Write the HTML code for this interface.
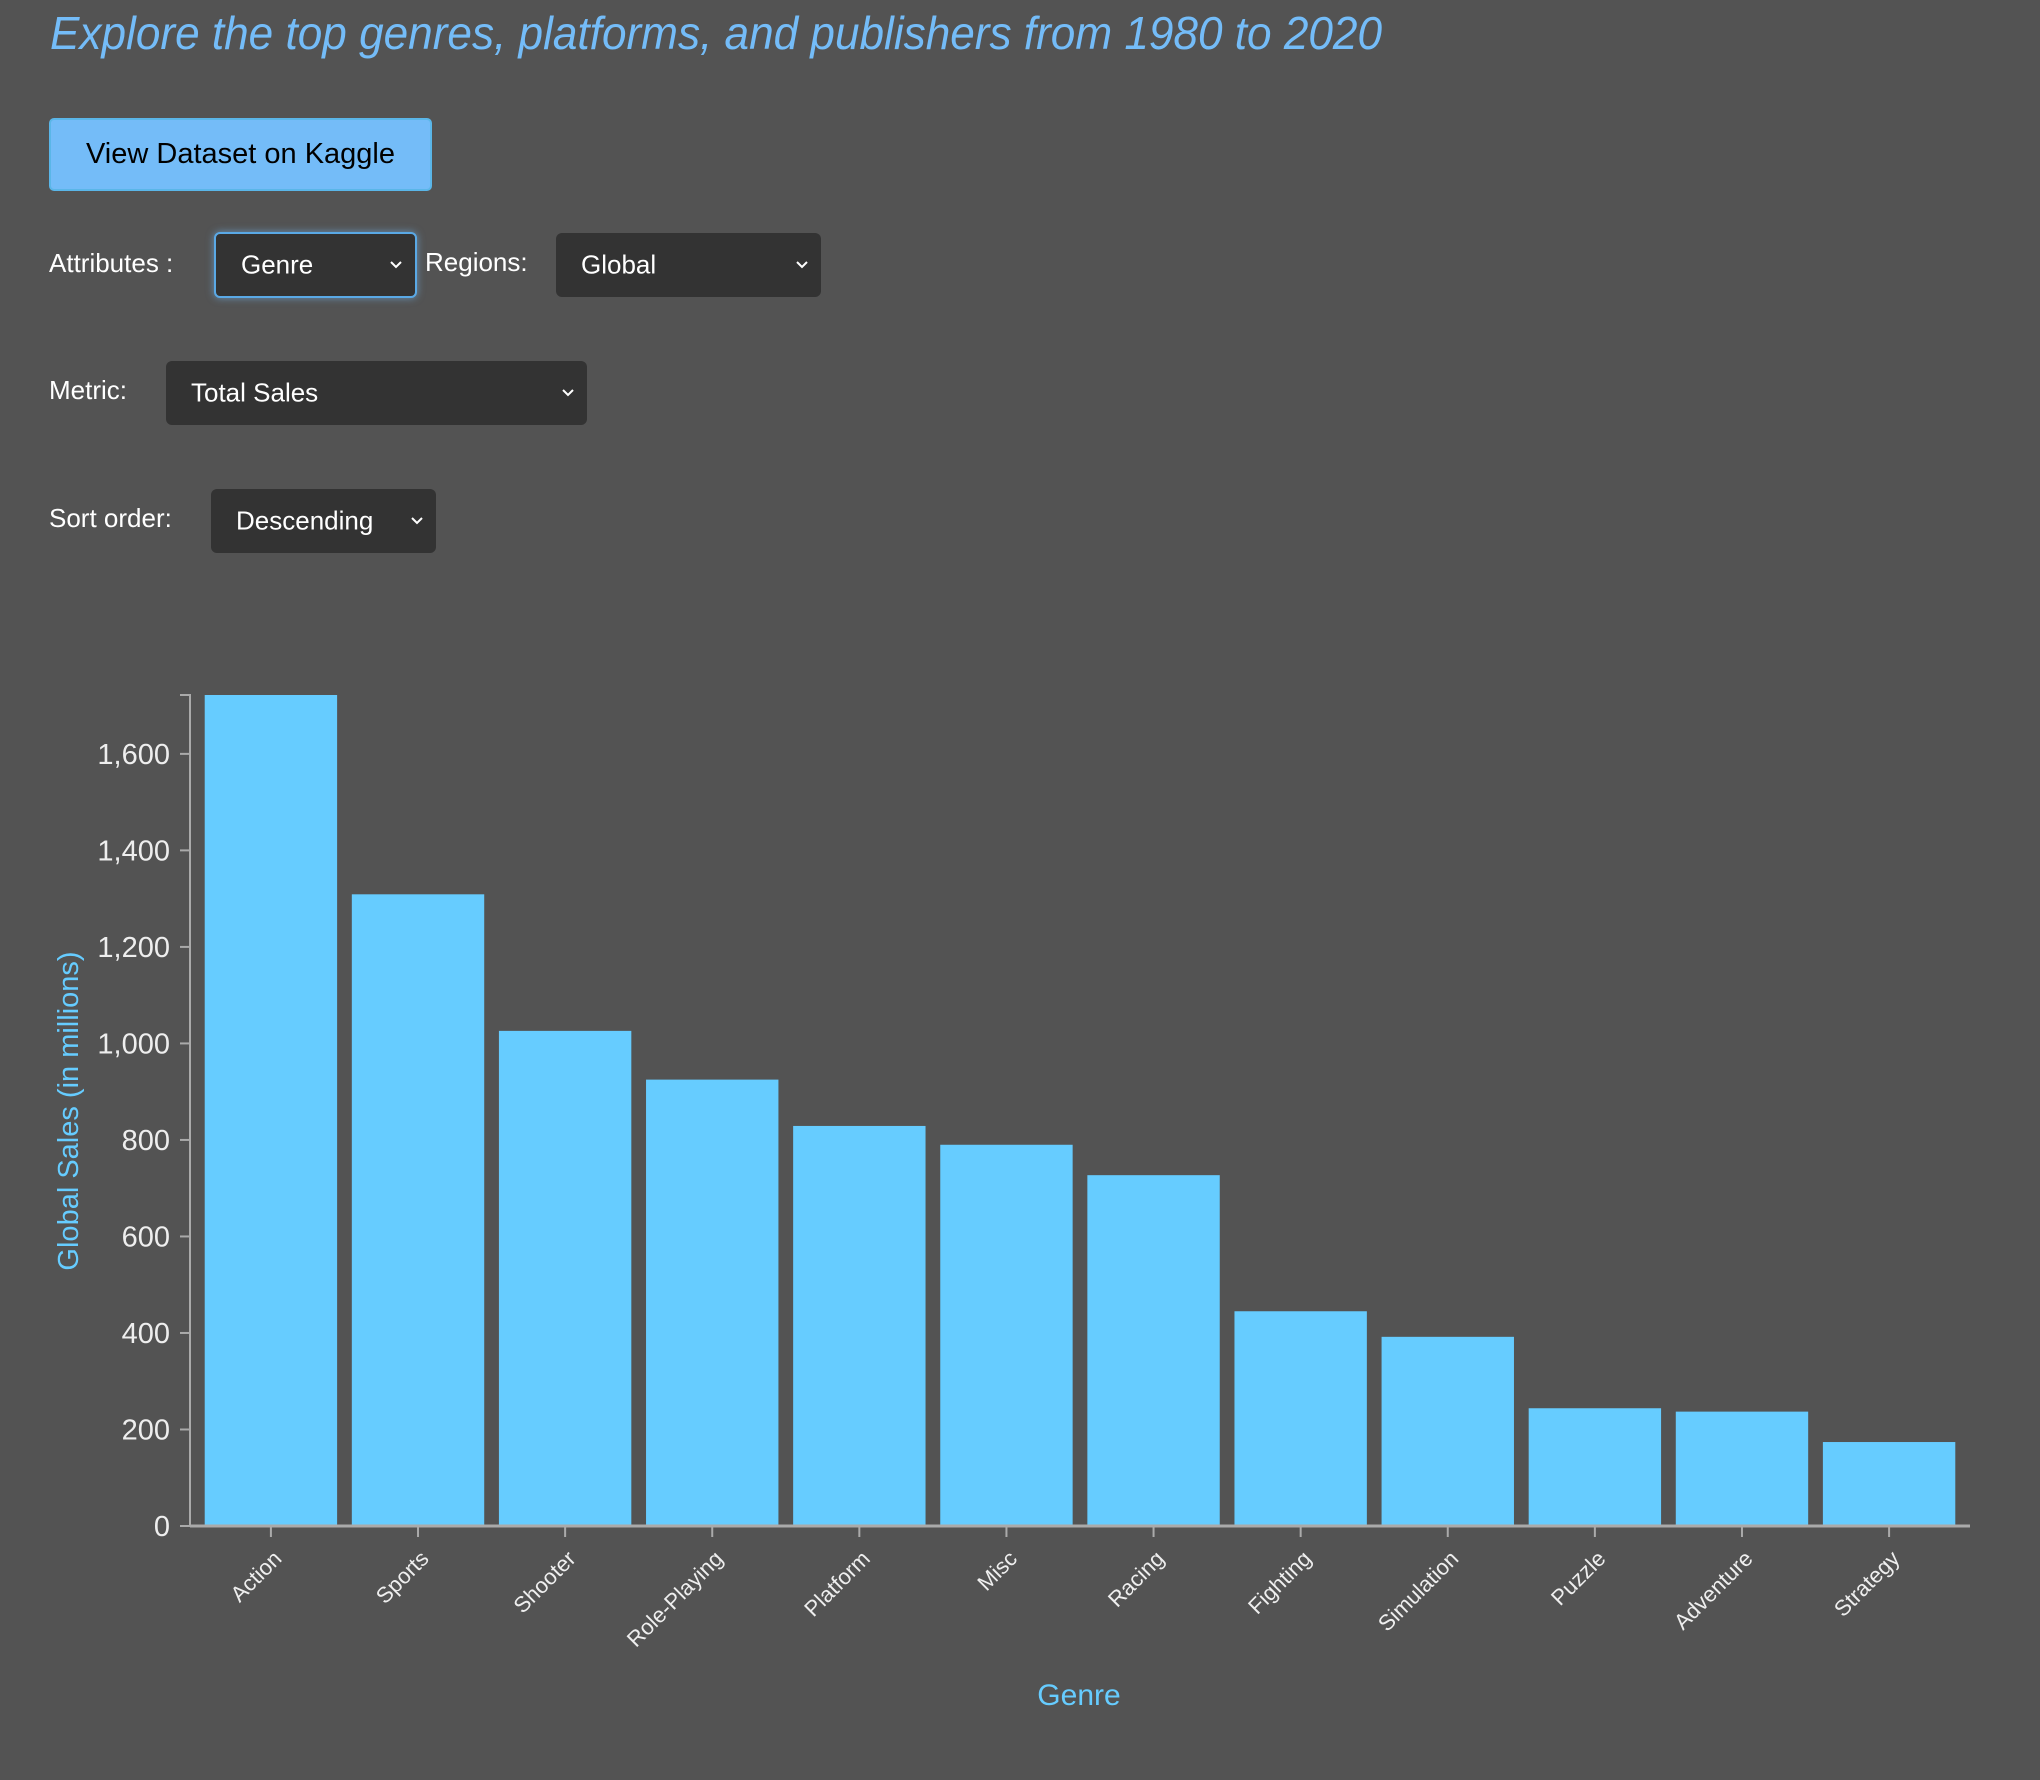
<!DOCTYPE html>
<html>
<head>
<meta charset="utf-8">
<style>
  html,body{margin:0;padding:0;}
  body{width:2040px;height:1780px;background:#535353;position:relative;overflow:hidden;font-family:"Liberation Sans",sans-serif;}
  .abs{position:absolute;}
  .lbl{color:#fff;font-size:26px;line-height:30px;}
  .sel{position:absolute;background:#333;border-radius:6px;color:#fff;font-size:26px;box-sizing:border-box;}
  .sel span.t{position:absolute;left:25px;top:50%;transform:translateY(-50%);}
  .sel svg.a{position:absolute;right:12px;top:50%;transform:translateY(-50%);}
  .btn{left:49px;top:118px;width:383px;height:73px;background:#74bcf8;border:2px solid #5ab6e8;border-radius:5px;box-sizing:border-box;color:#000;font-size:29px;text-align:center;line-height:69px;}
</style>
</head>
<body>
<svg class="abs" style="left:0;top:0" width="1400" height="70">
  <text x="50" y="49" font-family="Liberation Sans, sans-serif" font-style="italic" font-size="46" fill="#74bcf8" textLength="1332" lengthAdjust="spacingAndGlyphs">Explore the top genres, platforms, and publishers from 1980 to 2020</text>
</svg>

<div class="abs btn">View Dataset on Kaggle</div>

<div class="abs lbl" style="left:49px;top:248px">Attributes :</div>
<div class="sel" style="left:214px;top:232px;width:203px;height:66px;border:2px solid #5aa9e6;box-shadow:0 0 8px rgba(116,188,248,0.6)"><span class="t">Genre</span><svg class="a" width="14" height="10"><path d="M2 2L7 7L12 2" stroke="#fff" stroke-width="2" fill="none"/></svg></div>

<div class="abs lbl" style="left:425px;top:247px">Regions:</div>
<div class="sel" style="left:556px;top:233px;width:265px;height:64px"><span class="t">Global</span><svg class="a" width="14" height="10"><path d="M2 2L7 7L12 2" stroke="#fff" stroke-width="2" fill="none"/></svg></div>

<div class="abs lbl" style="left:49px;top:375px">Metric:</div>
<div class="sel" style="left:166px;top:361px;width:421px;height:64px"><span class="t">Total Sales</span><svg class="a" width="14" height="10"><path d="M2 2L7 7L12 2" stroke="#fff" stroke-width="2" fill="none"/></svg></div>

<div class="abs lbl" style="left:49px;top:503px">Sort order:</div>
<div class="sel" style="left:211px;top:489px;width:225px;height:64px"><span class="t">Descending</span><svg class="a" width="14" height="10"><path d="M2 2L7 7L12 2" stroke="#fff" stroke-width="2" fill="none"/></svg></div>

<svg id="chart" class="abs" style="left:0;top:0" width="2040" height="1780"></svg>

<script>
const categories = ["Action","Sports","Shooter","Role-Playing","Platform","Misc","Racing","Fighting","Simulation","Puzzle","Adventure","Strategy"];
const salesValues = [1722, 1309, 1026, 925, 829, 790, 727, 445, 392, 244, 237, 174];
const yTickValues = [0,200,400,600,800,1000,1200,1400,1600];
const yTickLabels = ["0","200","400","600","800","1,000","1,200","1,400","1,600"];

const NS = "http://www.w3.org/2000/svg";
const svg = document.getElementById('chart');
const X0 = 190, X1 = 1970, Y0 = 1526, YTOP = 695;
const yMax = Math.max(...salesValues);
function y(v){ return Y0 - (v / yMax) * (Y0 - YTOP); }
const n = categories.length;
const step = (X1 - X0) / (n + 0.1);
const bw = step * 0.9;
function xBand(i){ return X0 + step * 0.1 + i * step; }
function mk(tag, attrs){ const e = document.createElementNS(NS, tag); for (const k in attrs) e.setAttribute(k, attrs[k]); svg.appendChild(e); return e; }

salesValues.forEach((v, i) => {
  const r = mk('rect', {x: xBand(i), y: y(v), width: bw, height: Y0 - y(v), fill: '#66ccff'});
  
  
});

const ya = mk('path', {d: `M${X0-10},${YTOP}H${X0}V${Y0}H${X0-10}`, stroke: '#aaa', 'stroke-width': 2, fill: 'none'});


yTickValues.forEach((v, i) => {
  const t = mk('line', {x1: X0-10, x2: X0, y1: y(v), y2: y(v), stroke: '#aaa', 'stroke-width': 2});
  
  
  const tx = mk('text', {x: X0-20, y: y(v)+10, 'text-anchor': 'end', fill: '#eee', 'font-size': 29, 'font-family': 'Liberation Sans, sans-serif'});
  tx.textContent = yTickLabels[i];
  
  
});

const xa = mk('path', {d: `M${X0},${Y0}H${X1}`, stroke: '#aaa', 'stroke-width': 3, fill: 'none'});


categories.forEach((c, i) => {
  const cx = xBand(i) + bw / 2;
  const t = mk('line', {x1: cx, x2: cx, y1: Y0, y2: Y0+11, stroke: '#aaa', 'stroke-width': 2});
  
  
  const tx = mk('text', {x: cx+12, y: Y0+34, 'text-anchor': 'end', fill: '#eee', 'font-size': 22, 'font-family': 'Liberation Sans, sans-serif', transform: `rotate(-45 ${cx+12} ${Y0+34})`});
  tx.textContent = c;
  
  
});

const yt = mk('text', {x: 0, y: 0, 'text-anchor': 'middle', fill: '#66ccff', 'font-size': 29, 'font-family': 'Liberation Sans, sans-serif', transform: 'translate(78,1111) rotate(-90)'});
yt.textContent = 'Global Sales (in millions)';



const xt = mk('text', {x: 1079, y: 1705, 'text-anchor': 'middle', fill: '#66ccff', 'font-size': 30, 'font-family': 'Liberation Sans, sans-serif'});
xt.textContent = 'Genre';


</script>
</body>
</html>
